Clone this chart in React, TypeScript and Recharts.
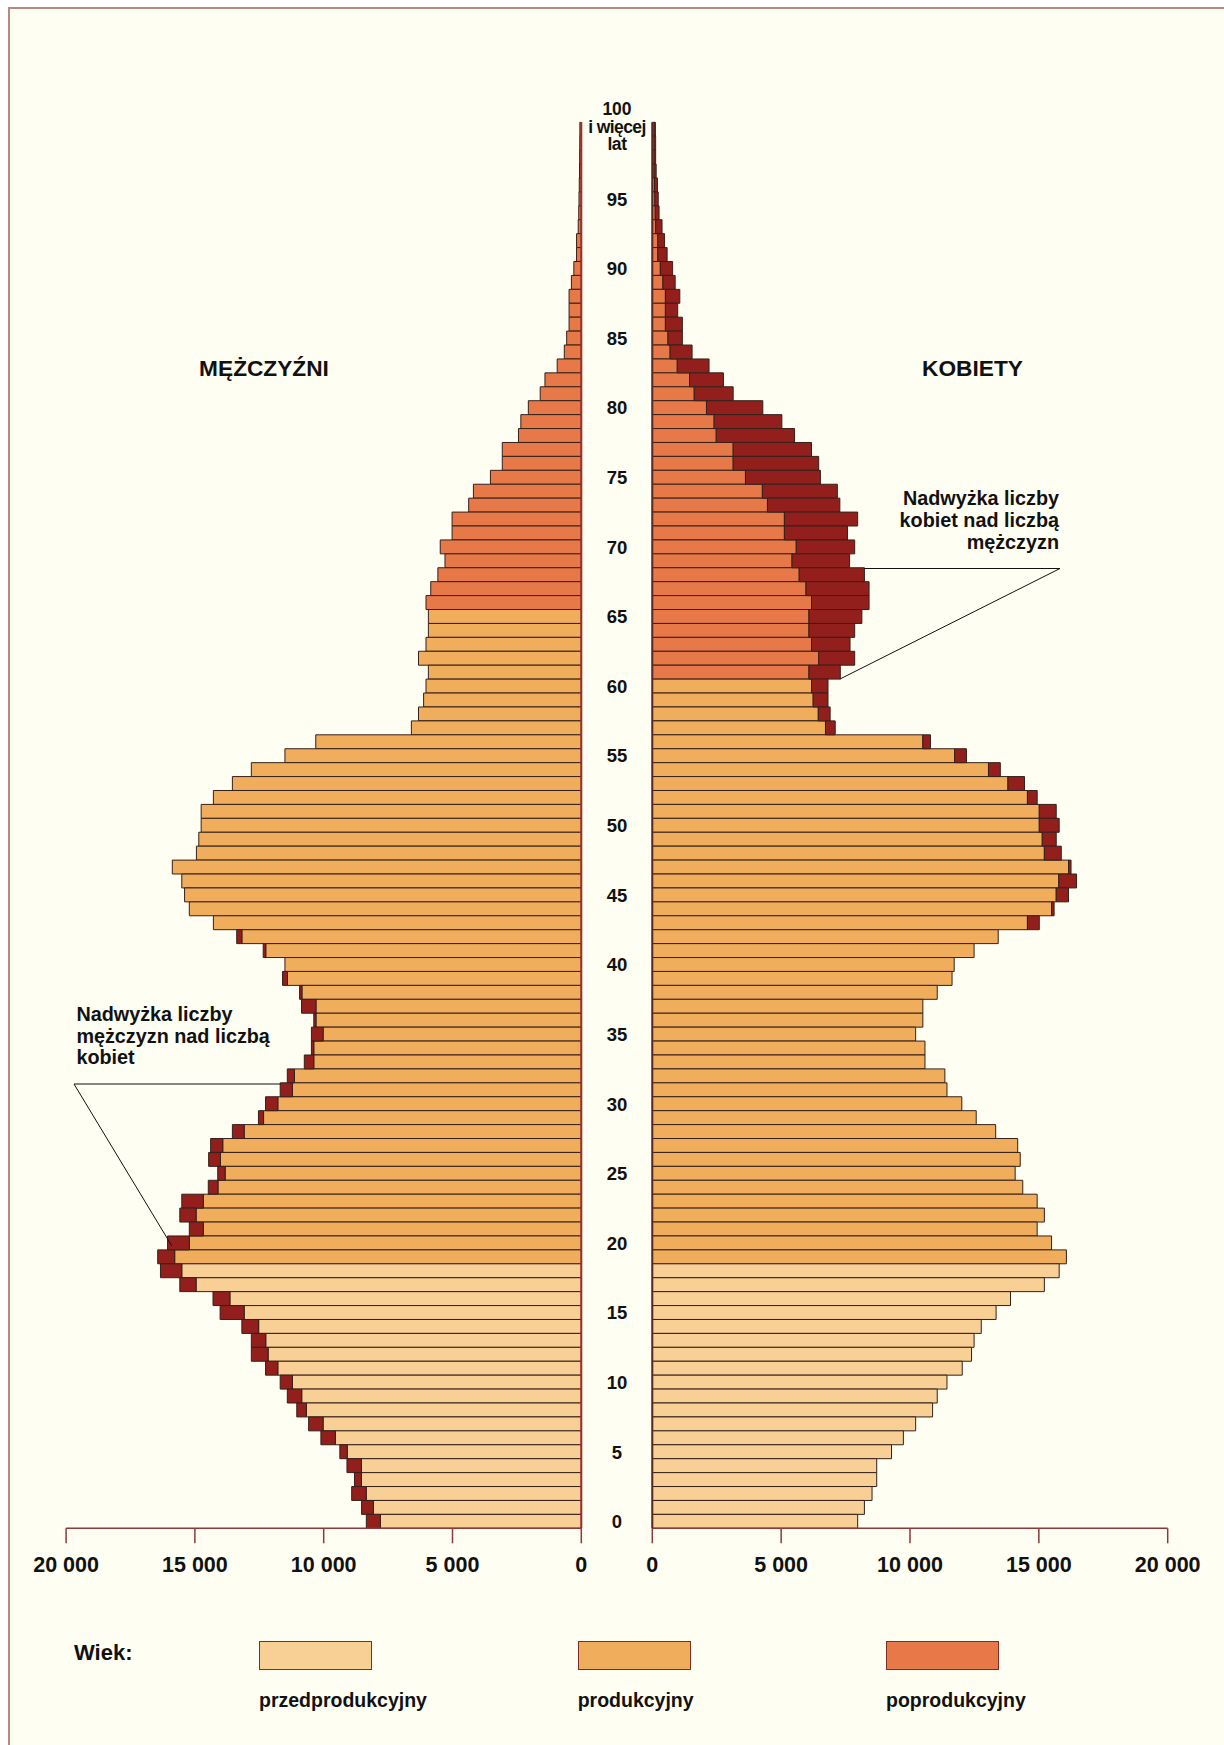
import React from 'react';
import { BarChart, Bar, XAxis, YAxis, Cell, ReferenceLine } from 'recharts';

// ---------- DATA (ages 0 .. 100 and more) ----------
const AGES: number[] = Array.from({ length: 101 }, (_, i) => i);

// total number of men by age (outer edge of bar on the left)
const MEN: number[] = [
  8345, 8529, 8913, 8805, 9097, 9373, 10109, 10585, 11045, 11413,
  11689, 12257, 12809, 12809, 13177, 14021, 14297, 15586, 16337, 16444,
  16061, 15217, 15586, 15509, 14481, 14113, 14466, 14389, 13545, 12533,
  12257, 11689, 11413, 10753, 10477, 10477, 10385, 10861, 10937, 11597,
  11505, 12349, 13376, 14282, 15217, 15401, 15509, 15877, 14941, 14849,
  14757, 14757, 14282, 13545, 12809, 11505, 10308, 6596, 6320, 6121,
  6029, 5937, 6320, 6029, 5937, 5937, 6029, 5845, 5568, 5292,
  5476, 5016, 5016, 4372, 4188, 3528, 3068, 3068, 2439, 2347,
  2056, 1595, 1411, 936, 660, 568, 475, 475, 475, 384,
  290, 184, 184, 120, 100, 90, 80, 70, 65, 60,
  55,
];

// surplus of men over women (dark red part on the left)
const MEN_SURPLUS: number[] = [
  547, 455, 563, 270, 562, 286, 561, 561, 376, 560,
  476, 476, 652, 560, 652, 934, 656, 632, 828, 659,
  844, 543, 632, 835, 377, 286, 455, 470, 458, 198,
  476, 476, 276, 368, 92, 453, 85, 561, 92, 192,
  0, 100, 199, 0, 0, 0, 0, 0, 0, 0,
  0, 0, 0, 0, 0, 0, 0, 0, 0, 0,
  0, 0, 0, 0, 0, 0, 0, 0, 0, 0,
  0, 0, 0, 0, 0, 0, 0, 0, 0, 0,
  0, 0, 0, 0, 0, 0, 0, 0, 0, 0,
  0, 0, 0, 0, 0, 0, 0, 0, 0, 0,
  0,
];

// total number of women by age (outer edge of bar on the right)
const WOMEN: number[] = [
  7969, 8231, 8527, 8708, 8708, 9283, 9743, 10219, 10877, 11057,
  11435, 12027, 12388, 12487, 12766, 13341, 13900, 15214, 15789, 16069,
  15493, 14935, 15214, 14935, 14376, 14081, 14278, 14179, 13325, 12569,
  12010, 11435, 11353, 10581, 10581, 10219, 10499, 10499, 11057, 11632,
  11715, 12487, 13423, 15017, 15592, 16151, 16463, 16249, 15871, 15674,
  15789, 15674, 14935, 14442, 13505, 12191, 10794, 7098, 6901, 6818,
  6818, 7295, 7854, 7673, 7854, 8133, 8412, 8412, 8231, 7656,
  7854, 7574, 7969, 7278, 7180, 6523, 6457, 6178, 5520, 5028,
  4288, 3138, 2760, 2202, 1544, 1166, 1166, 986, 1068, 887,
  789, 575, 476, 378, 263, 230, 200, 150, 130, 130,
  120,
];

// surplus of women over men (dark red part on the right)
const WOMEN_SURPLUS: number[] = [
  0, 0, 0, 0, 0, 0, 0, 0, 0, 0,
  0, 0, 0, 0, 0, 0, 0, 0, 0, 0,
  0, 0, 0, 0, 0, 0, 0, 0, 0, 0,
  0, 0, 0, 0, 0, 0, 0, 0, 0, 0,
  0, 0, 0, 460, 99, 477, 690, 98, 657, 542,
  772, 657, 378, 641, 460, 460, 295, 378, 460, 575,
  640, 1216, 1397, 1495, 1775, 2054, 2234, 2448, 2530, 2234,
  2268, 2448, 2843, 2809, 2908, 2908, 3319, 3040, 3039, 2629,
  2185, 1511, 1314, 1233, 854, 558, 657, 477, 559, 476,
  477, 361, 262, 247, 148, 130, 115, 80, 60, 60,
  50,
];

const X_TICKS: number[] = [0, 5000, 10000, 15000, 20000];
const AGE_LABEL_STEP = 5;
const PRE_MAX = 18;        // last pre-productive age
const MEN_PROD_MAX = 65;   // last productive age, men
const WOMEN_PROD_MAX = 60; // last productive age, women

const LEGEND = [
  { key: 'pre', label: 'przedprodukcyjny' },
  { key: 'prod', label: 'produkcyjny' },
  { key: 'post', label: 'poprodukcyjny' },
];

// ---------- STYLE ----------
const FONT = '"Liberation Sans", Arial, Helvetica, sans-serif';
const COLORS: Record<string, string> = {
  pre: '#F8CF94',
  prod: '#F0AD5B',
  post: '#E77847',
  surplus: '#931F1C',
};
const BAR_STROKE = '#35201a';
const AXIS = '#8a3a38';
const BG = '#FFFEF2';

const groupOf = (age: number, prodMax: number) =>
  age <= PRE_MAX ? 'pre' : age <= prodMax ? 'prod' : 'post';

const rows = AGES.map((age, i) => ({
  age,
  menBase: MEN[i] - MEN_SURPLUS[i],
  menSurplus: MEN_SURPLUS[i],
  womenBase: WOMEN[i] - WOMEN_SURPLUS[i],
  womenSurplus: WOMEN_SURPLUS[i],
  menGroup: groupOf(age, MEN_PROD_MAX),
  womenGroup: groupOf(age, WOMEN_PROD_MAX),
})).reverse();

const fmt = (v: number) => (v === 0 ? '0' : `${v / 1000} 000`);

const PLOT_TOP = 122.3;
const PLOT_H = 1406;
const CH_H = 1600;
const AX_H = 50;
const BOTTOM = CH_H - PLOT_TOP - PLOT_H - AX_H;
const BAR_SIZE = PLOT_H / AGES.length - 0.01;

const tickStyle = { fontSize: 21.5, fontWeight: 700, fill: '#111', fontFamily: FONT };

const AgeTick = (props: any) => {
  const { y, payload } = props;
  const age = payload.value as number;
  const cx = 57;
  if (age === AGES[AGES.length - 1]) {
    return (
      <g fontFamily={FONT} fontWeight={700} fill="#111" textAnchor="middle">
        <text x={cx} y={y - 14} fontSize={17.5}>{age}</text>
        <text x={cx} y={y + 3.6} fontSize={17.5} letterSpacing={-0.6}>i więcej</text>
        <text x={cx} y={y + 20.5} fontSize={17.5} letterSpacing={-0.4}>lat</text>
      </g>
    );
  }
  if (age % AGE_LABEL_STEP !== 0) return <g />;
  return (
    <text x={cx} y={y + 6.8} textAnchor="middle" fontFamily={FONT} fontWeight={700} fontSize={18.5} fill="#111">
      {age}
    </text>
  );
};

const txt: React.CSSProperties = { fontFamily: FONT, fontWeight: 700, color: '#111' };

export default function App() {
  return (
    <div style={{ position: 'fixed', left: 0, top: 0, width: 1224, height: 1745, background: '#fff', overflow: 'hidden' }}>
      <div
        style={{
          position: 'absolute', left: 8, top: 7, width: 1224, height: 1745,
          background: BG, borderTop: '2px solid #b88a7c', borderLeft: '2px solid #b88a7c',
        }}
      />
      {/* men */}
      <div style={{ position: 'absolute', left: 0, top: 0 }}>
        <BarChart
          width={600}
          height={CH_H}
          data={rows}
          layout="vertical"
          margin={{ top: PLOT_TOP, right: 18.7, bottom: BOTTOM, left: 66.1 }}
          barCategoryGap={0}
          barGap={0}
        >
          <XAxis
            type="number"
            domain={[0, 20000]}
            ticks={X_TICKS}
            reversed
            interval={0}
            tickFormatter={fmt}
            height={AX_H}
            tickSize={15}
            tickMargin={13}
            axisLine={{ stroke: AXIS, strokeWidth: 1.5 }}
            tickLine={{ stroke: AXIS, strokeWidth: 1.5 }}
            tick={tickStyle}
          />
          <YAxis type="category" dataKey="age" hide />
          <Bar dataKey="menBase" stackId="m" barSize={BAR_SIZE} stroke={BAR_STROKE} strokeWidth={1} isAnimationActive={false}>
            {rows.map((r) => (
              <Cell key={r.age} fill={COLORS[r.menGroup]} />
            ))}
          </Bar>
          <Bar dataKey="menSurplus" stackId="m" barSize={BAR_SIZE} fill={COLORS.surplus} stroke={BAR_STROKE} strokeWidth={1} isAnimationActive={false} />
          <ReferenceLine x={0} stroke="#9a2f2c" strokeWidth={2} />
        </BarChart>
      </div>
      {/* women */}
      <div style={{ position: 'absolute', left: 560, top: 0 }}>
        <BarChart
          width={664}
          height={CH_H}
          data={rows}
          layout="vertical"
          margin={{ top: PLOT_TOP, right: 56.3, bottom: BOTTOM, left: 32.3 }}
          barCategoryGap={0}
          barGap={0}
        >
          <XAxis
            type="number"
            domain={[0, 20000]}
            ticks={X_TICKS}
            interval={0}
            tickFormatter={fmt}
            height={AX_H}
            tickSize={15}
            tickMargin={13}
            axisLine={{ stroke: AXIS, strokeWidth: 1.5 }}
            tickLine={{ stroke: AXIS, strokeWidth: 1.5 }}
            tick={tickStyle}
          />
          <YAxis
            type="category"
            dataKey="age"
            width={60}
            interval={0}
            tickLine={false}
            axisLine={{ stroke: '#5a2a22', strokeWidth: 2 }}
            tick={AgeTick}
          />
          <Bar dataKey="womenBase" stackId="w" barSize={BAR_SIZE} stroke={BAR_STROKE} strokeWidth={1} isAnimationActive={false}>
            {rows.map((r) => (
              <Cell key={r.age} fill={COLORS[r.womenGroup]} />
            ))}
          </Bar>
          <Bar dataKey="womenSurplus" stackId="w" barSize={BAR_SIZE} fill={COLORS.surplus} stroke={BAR_STROKE} strokeWidth={1} isAnimationActive={false} />
        </BarChart>
      </div>

      {/* titles & annotations */}
      <svg width={1224} height={1745} style={{ position: 'absolute', left: 0, top: 0, pointerEvents: 'none' }}>
        <g fontFamily={FONT} fontWeight={700} fill="#111">
          <text x={264} y={376} fontSize={22.7} textAnchor="middle">MĘŻCZYŹNI</text>
          <text x={972.5} y={376} fontSize={22.7} textAnchor="middle">KOBIETY</text>
          <text x={1059} y={504.7} fontSize={19.8} textAnchor="end">Nadwyżka liczby</text>
          <text x={1059} y={526.6} fontSize={19.8} textAnchor="end">kobiet nad liczbą</text>
          <text x={1059} y={548.5} fontSize={19.8} textAnchor="end">mężczyzn</text>
          <text x={76.4} y={1020.7} fontSize={19.8}>Nadwyżka liczby</text>
          <text x={76.4} y={1042.6} fontSize={19.8}>mężczyzn nad liczbą</text>
          <text x={76.4} y={1064.4} fontSize={19.8}>kobiet</text>
        </g>
        <polyline points="864,568.5 1060,568.5 840,679" fill="none" stroke="#111" strokeWidth={1} />
        <polyline points="280.4,1084 74,1084 171.7,1245.7" fill="none" stroke="#111" strokeWidth={1} />
      </svg>

      {/* legend */}
      <div style={{ ...txt, position: 'absolute', left: 74, top: 1640, fontSize: 22, lineHeight: '26px' }}>Wiek:</div>
      {LEGEND.map((l, i) => {
        const left = [259, 577.7, 886][i];
        return (
          <React.Fragment key={l.key}>
            <div
              style={{
                position: 'absolute', left, top: 1641, width: 113, height: 29, boxSizing: 'border-box',
                background: COLORS[l.key], border: '1.5px solid #7e2e26',
              }}
            />
            <div style={{ ...txt, position: 'absolute', left, top: 1689, fontSize: 19.5, lineHeight: '22px' }}>{l.label}</div>
          </React.Fragment>
        );
      })}
    </div>
  );
}
